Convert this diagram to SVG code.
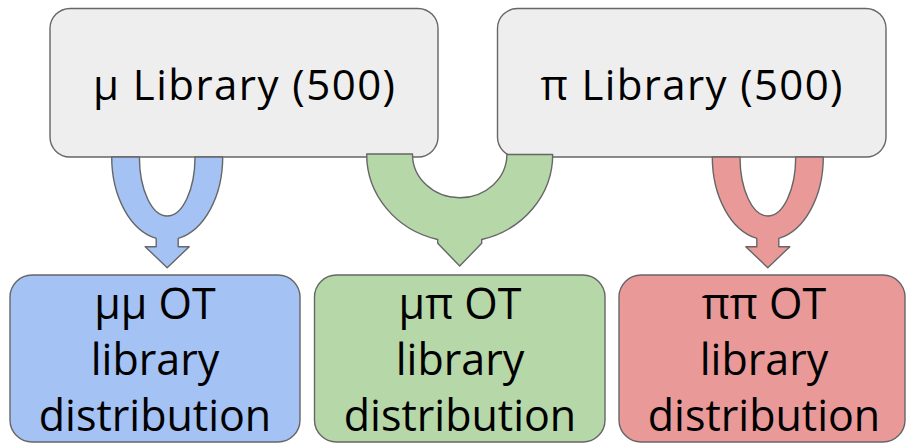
<svg xmlns="http://www.w3.org/2000/svg" width="906" height="443" viewBox="0 0 906 443">
  <style>
    .box { stroke: #666666; stroke-width: 1.4; }
    .lib { fill: #eeeeee; }
    .mm { fill: #a4c2f4; }
    .mp { fill: #b6d7a8; }
    .pp { fill: #ea9999; }
    .arrow { stroke: #666666; stroke-width: 1.4; stroke-linejoin: round; }
    text { font-family: "Open Sans", "Noto Sans", "Liberation Sans", sans-serif; fill: #000000; text-anchor: middle; font-variant-ligatures: none; }
    .big { font-size: 42px; }
    .lbl { font-size: 43px; }
  </style>
  <rect width="906" height="443" fill="#ffffff"/>

  <g id="mu-library">
    <rect class="box lib" x="50" y="8.5" width="388" height="148.5" rx="20"/>
    <text class="big" x="244" y="99.5" textLength="302" lengthAdjust="spacing">μ Library (500)</text>
  </g>
  <g id="pi-library">
    <rect class="box lib" x="497.5" y="8.5" width="388.5" height="148.5" rx="20"/>
    <text class="big" x="691.5" y="99.5" textLength="302" lengthAdjust="spacing">π Library (500)</text>
  </g>

  <g id="mumu-ot">
    <rect class="box mm" x="10" y="275" width="290" height="167" rx="22"/>
    <text class="lbl" x="155" y="319">μμ OT</text>
    <text class="lbl" x="155" y="375">library</text>
    <text class="lbl" x="155" y="431">distribution</text>
  </g>
  <g id="mupi-ot">
    <rect class="box mp" x="314.5" y="275" width="290.5" height="167" rx="22"/>
    <text class="lbl" x="460" y="319">μπ OT</text>
    <text class="lbl" x="460" y="375">library</text>
    <text class="lbl" x="460" y="431">distribution</text>
  </g>
  <g id="pipi-ot">
    <rect class="box pp" x="619" y="275" width="286" height="167" rx="22"/>
    <text class="lbl" x="764" y="319">ππ OT</text>
    <text class="lbl" x="764" y="375">library</text>
    <text class="lbl" x="764" y="431">distribution</text>
  </g>

  <g id="connectors">
    <!-- μ library into μμ: U-turn arrow -->
    <path class="arrow mm" d="M111.7,157 A55.5,83 0 0 0 156.2,238.4 L156.2,246.7 L145.2,246.7 L167.2,267.7 L189.2,246.7 L178.2,246.7 L178.2,238.4 A55.5,83 0 0 0 222.7,157 L195,157 A27.8,59 0 0 1 139.4,157 Z"/>
    <!-- both libraries into μπ: wide U arrow -->
    <path class="arrow mp" d="M366.7,154 A93,87.5 0 0 0 437.7,239.5 L437.7,243.3 L459.7,266 L481.7,243.3 L481.7,239.5 A93,87.5 0 0 0 552.7,154.5 L506.9,154.5 A47.2,43.5 0 0 1 412.5,154 Z"/>
    <!-- π library into ππ: U-turn arrow -->
    <path class="arrow pp" d="M712.3,157 A55.5,83 0 0 0 756.8,238.4 L756.8,246.7 L745.8,246.7 L767.8,267.7 L789.8,246.7 L778.8,246.7 L778.8,238.4 A55.5,83 0 0 0 823.3,157 L795.7,157 A27.85,59 0 0 1 740,157 Z"/>
  </g>
</svg>
